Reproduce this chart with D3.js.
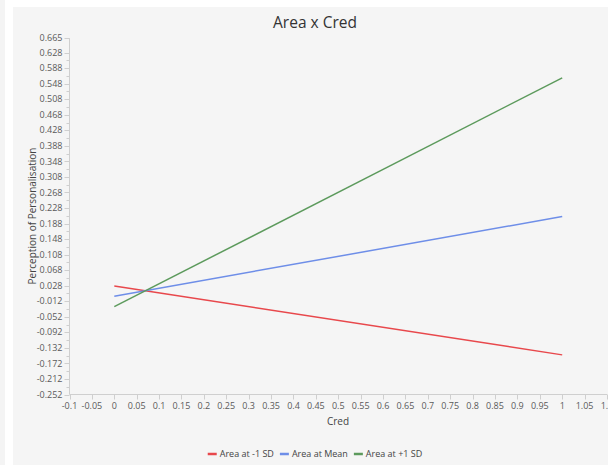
<!DOCTYPE html>
<html><head><meta charset="utf-8">
<script src="https://cdn.jsdelivr.net/npm/d3@7"></script>
<style>
html,body{margin:0;padding:0;background:#fff;}
svg{display:block;font-family:"Open Sans","Noto Sans",sans-serif;}
</style></head><body>
<svg id="c" width="608" height="465"></svg>
<script>
const title = "Area x Cred";
const xLabel = "Cred";
const yLabel = "Perception of Personalisation";
const xPoints = [0, 1];
const seriesNames = ["Area at -1 SD", "Area at Mean", "Area at +1 SD"];
const seriesColors = ["#e8484c", "#6e8ee8", "#5c9a5c"];
const lowValues = [0.027, 0.001, -0.026];
const meanValues = [-0.150, 0.206, 0.563];
const yTicks = [-0.252,-0.212,-0.172,-0.132,-0.092,-0.052,-0.012,0.028,0.068,0.108,0.148,0.188,0.228,0.268,0.308,0.348,0.388,0.428,0.468,0.508,0.548,0.588,0.628,0.665];
const xTicks = [-0.1,-0.05,0,0.05,0.1,0.15,0.2,0.25,0.3,0.35,0.4,0.45,0.5,0.55,0.6,0.65,0.7,0.75,0.8,0.85,0.9,0.95,1,1.05,1.1];
const series = seriesNames.map((n,i)=>({name:n,color:seriesColors[i],values:[lowValues[i],meanValues[i]]}));

const svg = d3.select("#c");
svg.append("rect").attr("x",0).attr("y",0).attr("width",5).attr("height",465).attr("fill","#f4f4f4");
svg.append("rect").attr("x",13).attr("y",7).attr("width",595).attr("height",458).attr("fill","#f5f5f5");

const x = d3.scaleLinear().domain([-0.1,1.1]).range([69.5,607]);
const y = d3.scaleLinear().domain([-0.252,0.665]).range([394.5,38.2]);

const axisColor = "#cfcfcf", textColor = "#5a5a5a";

// Y axis
const yMinor = d3.range(yTicks.length-2).map(i=>(yTicks[i]+yTicks[i+1])/2);
const ya = svg.append("g").attr("transform","translate(69.5,0)");
ya.append("line").attr("y1",y(0.665)).attr("y2",y(-0.252)).attr("stroke",axisColor);
ya.selectAll(".mj").data(yTicks).join("line").attr("x1",-5).attr("x2",0)
  .attr("y1",d=>Math.round(y(d))+0.5).attr("y2",d=>Math.round(y(d))+0.5).attr("stroke",axisColor);
ya.selectAll(".mn").data(yMinor).join("line").attr("x1",-3).attr("x2",0)
  .attr("y1",d=>Math.round(y(d))+0.5).attr("y2",d=>Math.round(y(d))+0.5).attr("stroke",axisColor);
ya.selectAll("text").data(yTicks).join("text").attr("x",-7).attr("y",d=>y(d)).attr("dy","0.35em")
  .attr("text-anchor","end").attr("font-size",9).attr("fill",textColor).text(d=>d3.format(".3f")(d).replace("\u2212","-"));

// X axis
const xa = svg.append("g").attr("transform","translate(0,394.5)");
xa.append("line").attr("x1",x(-0.1)).attr("x2",x(1.1)).attr("stroke",axisColor);
xa.selectAll(".mj").data(xTicks).join("line").attr("y1",0).attr("y2",5)
  .attr("x1",d=>Math.round(x(d))+0.5).attr("x2",d=>Math.round(x(d))+0.5).attr("stroke",axisColor);
xa.selectAll("text").data(xTicks).join("text").attr("x",d=>x(d)).attr("y",14)
  .attr("text-anchor","middle").attr("font-size",9).attr("fill",textColor).text(d=>String(d));

// Lines
const line = d3.line().x((d,i)=>x(xPoints[i])).y(d=>y(d));
svg.selectAll(".ln").data(series).join("path").attr("d",d=>line(d.values))
  .attr("fill","none").attr("stroke",d=>d.color).attr("stroke-width",1.5);

// Labels
svg.append("text").attr("x",315).attr("y",28).attr("text-anchor","middle").attr("font-size",15.5).attr("fill","#333").text(title);
svg.append("text").attr("x",338).attr("y",425).attr("text-anchor","middle").attr("font-size",10).attr("fill","#444").text(xLabel);
svg.append("text").attr("transform","translate(36,216) rotate(-90)").attr("text-anchor","middle").attr("font-size",10).attr("fill","#444").text(yLabel);

// Legend
const lg = svg.append("g").attr("transform","translate(0,454)");
const fs = 9;
const widths = [];
const tmp = lg.append("g");
series.forEach(s=>{const t=tmp.append("text").attr("font-size",fs).text(s.name); widths.push(t.node().getComputedTextLength());});
tmp.remove();
const sw=9, gap=3, itemGap=6;
const total = d3.sum(widths)+series.length*(sw+gap)+(series.length-1)*itemGap;
let cx = 315 - total/2;
series.forEach((s,i)=>{
  lg.append("line").attr("x1",cx).attr("x2",cx+sw).attr("y1",0).attr("y2",0).attr("stroke",s.color).attr("stroke-width",2.5);
  lg.append("text").attr("x",cx+sw+gap).attr("y",0).attr("dy","0.35em").attr("font-size",fs).attr("fill","#444").text(s.name);
  cx += sw+gap+widths[i]+itemGap;
});
</script></body></html>
